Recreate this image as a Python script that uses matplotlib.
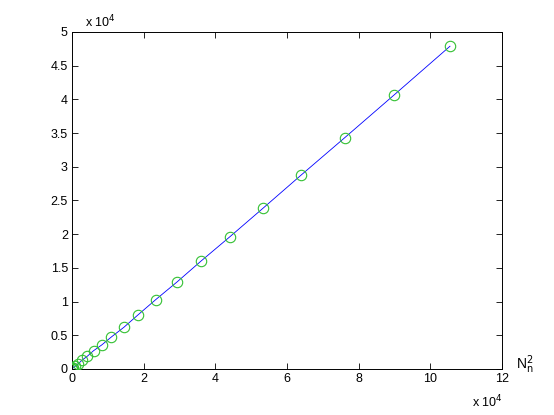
import matplotlib
matplotlib.use("Agg")
import matplotlib.pyplot as plt

plt.rcParams['font.family'] = ['Liberation Sans', 'DejaVu Sans']

# Data (x = N_n^2, y values)
x_vals = [1, 36, 144, 400, 900, 1700, 2900, 4300, 6000, 8300, 11000, 14500,
          18500, 23400, 29300, 36000, 44100, 53300, 63900, 76100, 89900, 105500]
y_vals = [0, 16, 65, 180, 400, 760, 1340, 1900, 2700, 3560, 4750, 6190,
          8060, 10300, 12900, 16000, 19630, 23840, 28740, 34300, 40650, 47880]

x_ticks = [0, 2, 4, 6, 8, 10, 12]
y_ticks = [0, 0.5, 1, 1.5, 2, 2.5, 3, 3.5, 4, 4.5, 5]
y_tick_labels = ['0', '0.5', '1', '1.5', '2', '2.5', '3', '3.5', '4', '4.5', '5']

fig = plt.figure(figsize=(5.54, 4.15), dpi=100)
ax = fig.add_axes([0.13, 0.111, 0.776, 0.812])

scale = 1e4
xs = [v / scale for v in x_vals]
ys = [v / scale for v in y_vals]
ax.plot(xs, ys, color='#0000ff', linewidth=0.6, zorder=2)
ax.plot(xs, ys, linestyle='none', marker='o', markersize=7.5,
        markerfacecolor='none', markeredgecolor='#33c033', markeredgewidth=0.8, zorder=3)

ax.set_xlim(0, 12)
ax.set_ylim(0, 5)
ax.set_xticks(x_ticks)
ax.set_xticklabels([str(t) for t in x_ticks])
ax.set_yticks(y_ticks)
ax.set_yticklabels(y_tick_labels)
ax.tick_params(direction='in', top=True, right=True, length=4, width=0.6,
               labelsize=9, pad=3)
for s in ax.spines.values():
    s.set_linewidth(0.7)

fig.text(0.153, 0.935, r'x 10$^{4}$', fontsize=9, ha='left', va='baseline')
fig.text(0.852, 0.019, r'x 10$^{4}$', fontsize=9, ha='left', va='baseline')
fig.text(0.931, 0.111, r'N$_{\mathrm{n}}^{2}$', fontsize=10, ha='left', va='baseline')

fig.savefig('out.png', dpi=100)
